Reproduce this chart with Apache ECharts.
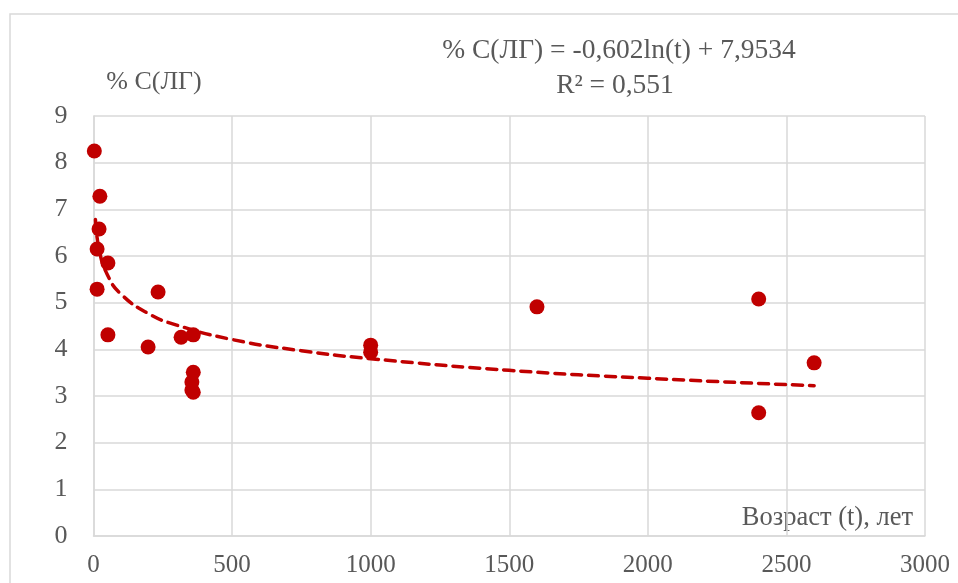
<!DOCTYPE html>
<html>
<head>
<meta charset="utf-8">
<script src="https://cdn.jsdelivr.net/npm/echarts@6/dist/echarts.min.js"></script>
<style>html,body{margin:0;padding:0;background:#fff}#c{width:958px;height:583px}</style>
</head>
<body>
<div id="c"></div>
<script>
// Age (t), years
const ageYears = [3, 23, 20, 13, 52, 13, 233, 52, 197, 316, 360, 360, 355, 355, 360, 1000, 1000, 1600, 2400, 2400, 2600];
// % C(LG)
const carbonPct = [8.25, 7.28, 6.58, 6.15, 5.85, 5.29, 5.23, 4.31, 4.05, 4.26, 4.31, 3.51, 3.3, 3.13, 3.08, 4.09, 3.94, 4.91, 5.08, 2.64, 3.71];
// logarithmic trend line
const trendAge = [7, 20, 50, 100, 200, 300, 500, 750, 1000, 1500, 2000, 2600];
const trendPct = [6.78, 6.15, 5.60, 5.18, 4.76, 4.52, 4.21, 3.97, 3.80, 3.55, 3.38, 3.22];
const xTicks = {min: 0, max: 3000, interval: 500};
const yTicks = {min: 0, max: 9, interval: 1};
const yTitle = '% С(ЛГ)';
const xTitle = 'Возраст (t), лет';
const eqLine1 = '% С(ЛГ) = -0,602ln(t) + 7,9534';
const eqLine2 = 'R² = 0,551';

const font = 'Liberation Serif, Times New Roman, serif';
const gray = '#595959';
const gridCol = '#D9D9D9';
const red = '#C00000';

const chart = echarts.init(document.getElementById('c'), null, {renderer: 'canvas'});
chart.setOption({
  animation: false,
  backgroundColor: '#fff',
  grid: {left: 93.5, right: 33, top: 116, bottom: 47, containLabel: false},
  xAxis: {
    type: 'value', min: xTicks.min, max: xTicks.max, interval: xTicks.interval,
    axisLine: {show: true, lineStyle: {color: gridCol, width: 1.5}},
    axisTick: {show: false},
    splitLine: {show: true, lineStyle: {color: gridCol, width: 1.5}},
    axisLabel: {color: gray, fontFamily: font, fontSize: 25, margin: 17, formatter: v => String(v)}
  },
  yAxis: {
    type: 'value', min: yTicks.min, max: yTicks.max, interval: yTicks.interval,
    axisLine: {show: true, lineStyle: {color: gridCol, width: 1.5}},
    axisTick: {show: false},
    splitLine: {show: true, lineStyle: {color: gridCol, width: 1.5}},
    axisLabel: {color: gray, fontFamily: font, fontSize: 26, margin: 26}
  },
  series: [
    {
      type: 'line',
      data: trendAge.map((t, i) => [t, trendPct[i]]),
      smooth: true,
      showSymbol: false,
      symbol: 'none',
      lineStyle: {color: red, width: 3.5, type: [10, 7], cap: 'round'},
      z: 2
    },
    {
      type: 'scatter',
      data: ageYears.map((t, i) => [t, carbonPct[i]]),
      symbol: 'circle',
      symbolSize: 15,
      itemStyle: {color: red, opacity: 1},
      z: 3
    }
  ],
  graphic: [
    {type: 'rect', shape: {x: 10, y: 14, width: 1000, height: 700}, style: {fill: 'none', stroke: gridCol, lineWidth: 1.5}, silent: true, z: -1},
    {type: 'text', x: 154, y: 82, style: {text: yTitle, fill: gray, font: '26px ' + font, textAlign: 'center', textVerticalAlign: 'middle'}},
    {type: 'text', x: 619, y: 51, style: {text: eqLine1, fill: gray, font: '27.5px ' + font, textAlign: 'center', textVerticalAlign: 'middle'}},
    {type: 'text', x: 615, y: 86, style: {text: eqLine2, fill: gray, font: '27.5px ' + font, textAlign: 'center', textVerticalAlign: 'middle'}},
    {type: 'text', x: 913, y: 518, style: {text: xTitle, fill: gray, font: '26.5px ' + font, textAlign: 'right', textVerticalAlign: 'middle'}}
  ]
});
</script>
</body>
</html>
